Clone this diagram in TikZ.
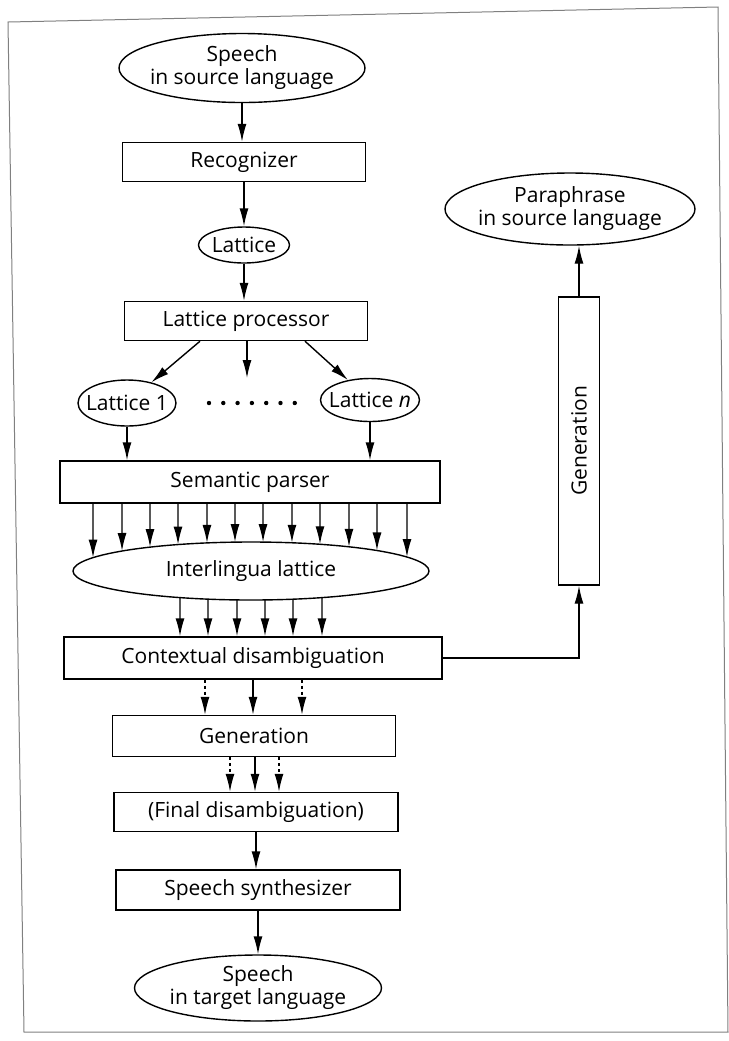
\documentclass[tikz,border=0pt]{standalone}
\usepackage{fontspec}
\setmainfont{Open Sans}
\usetikzlibrary{shapes.geometric,arrows.meta,intersections}

\begin{document}
\begin{tikzpicture}[x=0.5pt,y=-0.5pt,>={Latex[length=9pt,width=4.5pt]},
    line width=0.7pt,font=\fontsize{10.5}{11.5}\selectfont,
    px size/.style 2 args={minimum width=#1*0.5pt,minimum height=#2*0.5pt},
    box node/.style={draw,rectangle,inner sep=0pt,align=center},
    oval node/.style={draw,ellipse,inner xsep=-10pt,inner ysep=0pt,align=center},
    arr/.style={->},
    dotarr/.style={->,dash pattern=on 1.5pt off 1.5pt}]

      \clip (0,0) rectangle (729,1041);
      % scanned frame
      \draw[gray,line width=0.5pt] (8,22) -- (718,7) -- (728,1032) -- (24,1032) -- cycle;

      \node[oval node,px size={246}{69}] at (242,68) (src) {Speech\\in source language};
      \node[box node,px size={243}{39}] at (244,162) (rec) {Recognizer};
      \node[oval node,px size={91}{36}] at (244,245) (lat) {Lattice};
      \node[box node,px size={243}{39}] at (246,321) (lp) {Lattice processor};
      \node[oval node,px size={98}{46}] at (127,403) (l1) {Lattice 1};
      \node[oval node,px size={99}{43}] at (370,400) (ln) {Lattice \textit{n}};
      \coordinate (mid) at (247,378);
      \node[box node,px size={380}{42}] at (250,482) (sp) {Semantic parser};
      \node[oval node,px size={356}{58},name path=ilborder] at (251,571) (il) {Interlingua lattice};
      \node[box node,px size={378}{42}] at (253,658) (cd) {Contextual disambiguation};
      \node[box node,px size={283}{41}] at (254,736) (gen) {Generation};
      \node[box node,px size={284}{39}] at (256,812) (fd) {(Final disambiguation)};
      \node[box node,px size={284}{40}] at (258,890) (ss) {Speech synthesizer};
      \node[oval node,px size={247}{66}] at (258,988) (tgt) {Speech\\in target language};
      \node[oval node,px size={250}{72}] at (570,209) (para) {Paraphrase\\in source language};
      \node[box node,px size={41}{288}] at (579,441) (vgen) {\rotatebox{90}{Generation}};

      % dots between the lattices
      \foreach \i in {0,...,6}
        \fill (209+\i*14.3,403) circle[radius=1.1pt];

      \path[arr]
      (src.south) edge (src.south |- rec.north)
      (rec.south) edge (rec.south |- lat.north)
      (lat.south) edge (lat.south |- lp.north)
      (lp.south -| 200,0) edge (l1)
      (lp.south -| 247,0) edge (mid)
      (lp.south -| 305,0) edge (ln)
      (l1.south) edge (l1.south |- sp.north)
      (ln.south) edge (ln.south |- sp.north)
      ;

      \foreach \x in {93,122,150,178,207,235,263,292,320,349,377,407} {
        \path[name path=vline] (sp.south -| \x,0) -- (il.south -| \x,0);
        \draw[arr,name intersections={of=vline and ilborder,sort by=vline,name=hit}]
          (sp.south -| \x,0) -- (hit-1);
      }
      \foreach \x in {180,208,237,265,293,322} {
        \path[name path=vline] (il.north -| \x,0) -- (cd.north -| \x,0);
        \draw[arr,name intersections={of=vline and ilborder,sort by=vline,name=hit}]
          (hit-2) -- (cd.north -| \x,0);
      }

      \draw[arr] (cd.east) -| (vgen.south);
      \draw[arr] (vgen.north) -- (vgen.north |- para.south);

      \draw[dotarr] (cd.south -| 205,0) -- (gen.north -| 205,0);
      \draw[arr] (cd.south -| 253,0) -- (gen.north -| 253,0);
      \draw[dotarr] (cd.south -| 302,0) -- (gen.north -| 302,0);
      \draw[dotarr] (gen.south -| 230,0) -- (fd.north -| 230,0);
      \draw[arr] (gen.south -| 255,0) -- (fd.north -| 255,0);
      \draw[dotarr] (gen.south -| 279,0) -- (fd.north -| 279,0);

      \path[arr]
      (fd.south) edge (fd.south |- ss.north)
      (ss.south) edge (ss.south |- tgt.north)
      ;

    \end{tikzpicture}
\end{document}
